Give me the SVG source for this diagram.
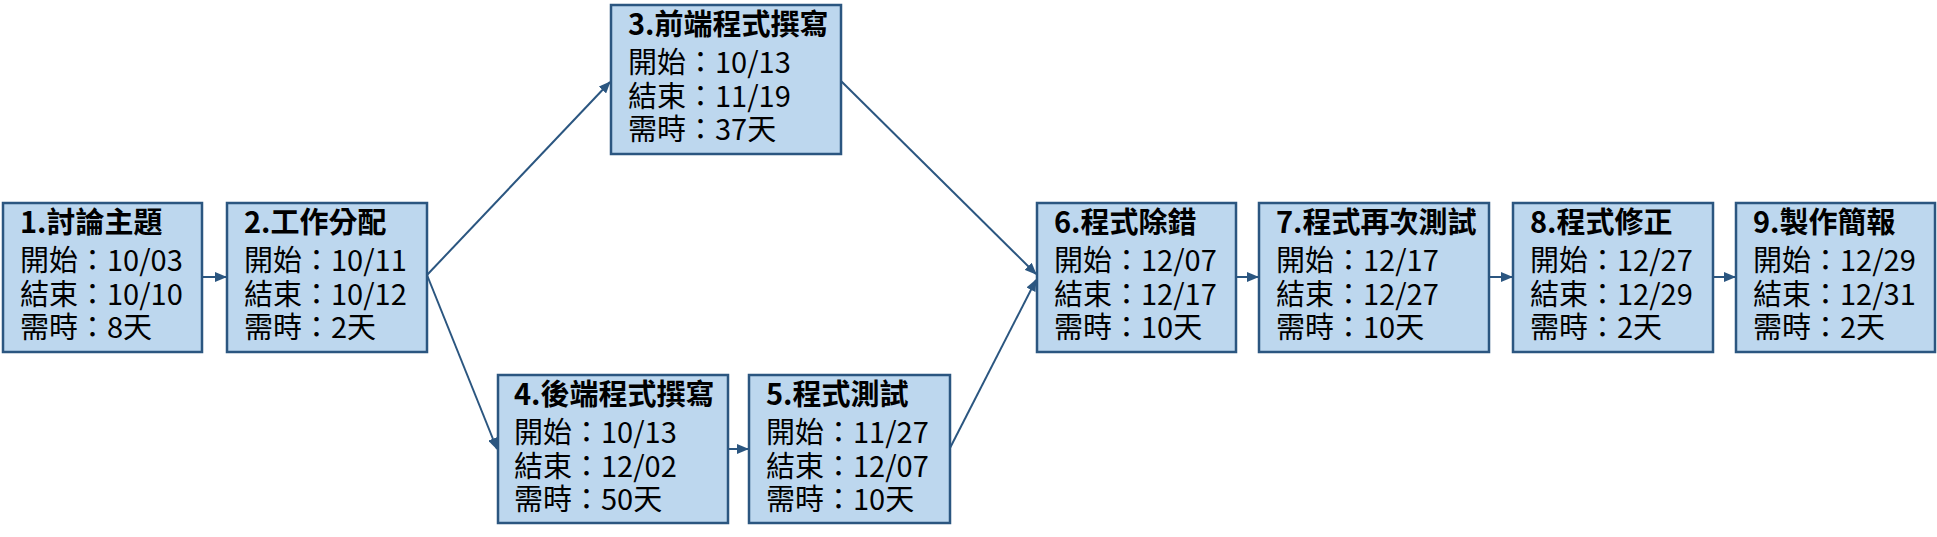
<svg xmlns="http://www.w3.org/2000/svg" width="1937" height="537" viewBox="0 0 1937 537">
<style>
.box{fill:#BDD7EE;stroke:#2B5680;stroke-width:2.5}
.t{font-family:"Noto Sans CJK TC","Noto Sans",sans-serif;font-size:29px;fill:#000}
.h{font-weight:bold}
.c{stroke:#2B5680;stroke-width:2;fill:none;marker-end:url(#ah)}
</style>
<defs>
<marker id="ah" viewBox="0 0 12 10" refX="11" refY="5" markerWidth="12" markerHeight="10" markerUnits="userSpaceOnUse" orient="auto">
<path d="M0,0 L12,5 L0,10 Z" fill="#2B5680"/>
</marker>
</defs>
<rect width="1937" height="537" fill="#fff"/>
<g id="connectors">
<line class="c" x1="202" y1="277" x2="226" y2="277"/>
<line class="c" x1="427" y1="275" x2="610" y2="82"/>
<line class="c" x1="427" y1="275" x2="497" y2="449"/>
<line class="c" x1="728" y1="449" x2="748" y2="449"/>
<line class="c" x1="841" y1="81" x2="1036" y2="274"/>
<line class="c" x1="950" y1="448" x2="1036" y2="280"/>
<line class="c" x1="1236" y1="277" x2="1258" y2="277"/>
<line class="c" x1="1489" y1="277" x2="1512" y2="277"/>
<line class="c" x1="1713" y1="277" x2="1735" y2="277"/>
</g>
<g id="node1">
<rect class="box" x="3" y="203" width="199" height="149"/>
<text class="t" x="20" y="233"><tspan class="h">1.討論主題</tspan><tspan x="20" dy="38">開始：10/03</tspan><tspan x="20" dy="34">結束：10/10</tspan><tspan x="20" dy="33">需時：8天</tspan></text>
</g>
<g id="node2">
<rect class="box" x="227" y="203" width="200" height="149"/>
<text class="t" x="244" y="233"><tspan class="h">2.工作分配</tspan><tspan x="244" dy="38">開始：10/11</tspan><tspan x="244" dy="34">結束：10/12</tspan><tspan x="244" dy="33">需時：2天</tspan></text>
</g>
<g id="node3">
<rect class="box" x="611" y="5" width="230" height="149"/>
<text class="t" x="628" y="35"><tspan class="h">3.前端程式撰寫</tspan><tspan x="628" dy="38">開始：10/13</tspan><tspan x="628" dy="34">結束：11/19</tspan><tspan x="628" dy="33">需時：37天</tspan></text>
</g>
<g id="node4">
<rect class="box" x="498" y="375" width="230" height="148"/>
<text class="t" x="514" y="405"><tspan class="h">4.後端程式撰寫</tspan><tspan x="514" dy="38">開始：10/13</tspan><tspan x="514" dy="34">結束：12/02</tspan><tspan x="514" dy="33">需時：50天</tspan></text>
</g>
<g id="node5">
<rect class="box" x="749" y="375" width="201" height="148"/>
<text class="t" x="766" y="405"><tspan class="h">5.程式測試</tspan><tspan x="766" dy="38">開始：11/27</tspan><tspan x="766" dy="34">結束：12/07</tspan><tspan x="766" dy="33">需時：10天</tspan></text>
</g>
<g id="node6">
<rect class="box" x="1037" y="203" width="199" height="149"/>
<text class="t" x="1054" y="233"><tspan class="h">6.程式除錯</tspan><tspan x="1054" dy="38">開始：12/07</tspan><tspan x="1054" dy="34">結束：12/17</tspan><tspan x="1054" dy="33">需時：10天</tspan></text>
</g>
<g id="node7">
<rect class="box" x="1259" y="203" width="230" height="149"/>
<text class="t" x="1276" y="233"><tspan class="h">7.程式再次測試</tspan><tspan x="1276" dy="38">開始：12/17</tspan><tspan x="1276" dy="34">結束：12/27</tspan><tspan x="1276" dy="33">需時：10天</tspan></text>
</g>
<g id="node8">
<rect class="box" x="1513" y="203" width="200" height="149"/>
<text class="t" x="1530" y="233"><tspan class="h">8.程式修正</tspan><tspan x="1530" dy="38">開始：12/27</tspan><tspan x="1530" dy="34">結束：12/29</tspan><tspan x="1530" dy="33">需時：2天</tspan></text>
</g>
<g id="node9">
<rect class="box" x="1736" y="203" width="199" height="149"/>
<text class="t" x="1753" y="233"><tspan class="h">9.製作簡報</tspan><tspan x="1753" dy="38">開始：12/29</tspan><tspan x="1753" dy="34">結束：12/31</tspan><tspan x="1753" dy="33">需時：2天</tspan></text>
</g>
</svg>
